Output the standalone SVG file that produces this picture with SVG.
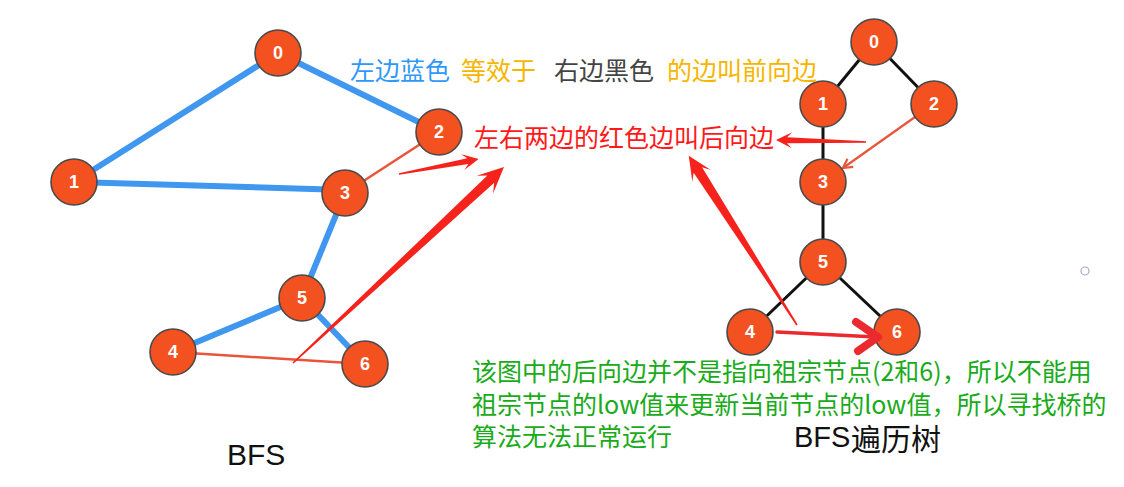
<svg xmlns="http://www.w3.org/2000/svg" width="1124" height="487" viewBox="0 0 1124 487">
<style>
.node circle{fill:#f3511f;stroke:#4a4a4a;stroke-width:1.6}
.node text{fill:#fff;font-family:"Liberation Sans",Arial,sans-serif;font-weight:bold;font-size:18px;text-anchor:middle}
.blue{stroke:#3f97ef;stroke-width:6;stroke-linecap:round;fill:none}
.back{stroke:#e8553a;stroke-width:2.5;fill:none}
.tree{stroke:#111;stroke-width:3;fill:none}
.big{fill:#f5231c}
.cjk{font-family:"Noto Sans CJK SC","Noto Sans",sans-serif;font-size:25px}
.lat{font-family:"Liberation Sans",Arial,sans-serif;fill:#111}
</style>
<defs>
<marker id="ah" markerWidth="12" markerHeight="12" refX="10" refY="6" orient="auto" markerUnits="userSpaceOnUse">
<path d="M1,1 L10,6 L1,11" fill="none" stroke="#e8553a" stroke-width="2.2"/>
</marker>
</defs>
<rect width="1124" height="487" fill="#fff"/>
<g id="connectors">
<line class="blue" x1="278" y1="53" x2="74" y2="182"/>
<line class="blue" x1="278" y1="53" x2="439" y2="132"/>
<line class="blue" x1="74" y1="182" x2="345" y2="190"/>
<line class="blue" x1="345" y1="193" x2="302" y2="298"/>
<line class="blue" x1="302" y1="298" x2="173" y2="352"/>
<line class="blue" x1="302" y1="298" x2="365" y2="364"/>
<line class="back" x1="439" y1="132" x2="345" y2="193"/>
<line class="back" x1="173" y1="352" x2="365" y2="364"/>
<line class="tree" x1="874" y1="42" x2="823" y2="104"/>
<line class="tree" x1="874" y1="42" x2="934" y2="104"/>
<line class="tree" x1="823" y1="104" x2="823" y2="182"/>
<line class="tree" x1="823" y1="182" x2="823" y2="262"/>
<line class="tree" x1="823" y1="262" x2="750" y2="332"/>
<line class="tree" x1="823" y1="262" x2="897" y2="332"/>
<line x1="915" y1="117" x2="843" y2="168" stroke="#e8553a" stroke-width="2.2" marker-end="url(#ah)"/>
</g>
<g id="L0" class="node"><circle cx="278" cy="53" r="23"/><text x="278" y="59">0</text></g>
<g id="L1" class="node"><circle cx="74" cy="182" r="23"/><text x="74" y="188">1</text></g>
<g id="L2" class="node"><circle cx="439" cy="132" r="23"/><text x="439" y="138">2</text></g>
<g id="L3" class="node"><circle cx="345" cy="193" r="23"/><text x="345" y="199">3</text></g>
<g id="L4" class="node"><circle cx="173" cy="352" r="23"/><text x="173" y="358">4</text></g>
<g id="L5" class="node"><circle cx="302" cy="298" r="23"/><text x="302" y="304">5</text></g>
<g id="L6" class="node"><circle cx="365" cy="364" r="23"/><text x="365" y="370">6</text></g>
<g id="T0" class="node"><circle cx="874" cy="42" r="23"/><text x="874" y="48">0</text></g>
<g id="T1" class="node"><circle cx="823" cy="104" r="23"/><text x="823" y="110">1</text></g>
<g id="T2" class="node"><circle cx="934" cy="104" r="23"/><text x="934" y="110">2</text></g>
<g id="T3" class="node"><circle cx="823" cy="182" r="23"/><text x="823" y="188">3</text></g>
<g id="T5" class="node"><circle cx="823" cy="262" r="23"/><text x="823" y="268">5</text></g>
<g id="T4" class="node"><circle cx="750" cy="332" r="23"/><text x="750" y="338">4</text></g>
<g id="T6" class="node"><circle cx="897" cy="332" r="23"/><text x="897" y="338">6</text></g>
<g id="arrows">
<path class="big" transform="translate(399,174) rotate(-10.6)" d="M0,-0.8 L70,-2.8 L65,-8 L81,0 L65,8 L70,2.8 L0,0.8Z"/>
<path class="big" transform="translate(293,363) rotate(-42.9)" d="M0,-0.8 L270,-5 L262,-12 L288,0 L262,12 L270,5 L0,0.8Z"/>
<path class="big" transform="translate(866,142) rotate(-178.7)" d="M0,-0.8 L79,-3 L74,-8 L90,0 L74,8 L79,3 L0,0.8Z"/>
<path class="big" transform="translate(797,325) rotate(-122.6)" d="M0,-0.8 L184,-5 L177,-11 L201,0 L177,11 L184,5 L0,0.8Z"/>
<line x1="777" y1="332" x2="876" y2="337" stroke="#ea2a2f" stroke-width="3.5" stroke-linecap="round"/>
<path d="M856,322 L878,337 L858,351" fill="none" stroke="#ea2a2f" stroke-width="8" stroke-linecap="round" stroke-linejoin="round"/>
</g>
<g id="labels">
<text class="cjk" x="350" y="80" fill="#2f98fb">左边蓝色</text>
<text class="cjk" x="461" y="80" fill="#f6b600">等效于</text>
<text class="cjk" x="554" y="80" fill="#444">右边黑色</text>
<text class="cjk" x="667" y="80" fill="#f6b600">的边叫前向边</text>
<text class="cjk" x="474" y="147" fill="#ff1a1a">左右两边的红色边叫后向边</text>
<text class="cjk" fill="#1aab1a"><tspan x="472" y="381">该图中的后向边并不是指向祖宗节点(2和6)，所以不能用</tspan><tspan x="472" y="414">祖宗节点的low值来更新当前节点的low值，所以寻找桥的</tspan><tspan x="472" y="446">算法无法正常运行</tspan></text>
<text class="lat" x="227" y="465" font-size="30">BFS</text>
<text class="lat" x="794" y="447" font-size="29">BFS</text>
<text x="851" y="450" font-family="Noto Sans CJK SC,sans-serif" font-size="30" fill="#111">遍历树</text>
</g>
<circle cx="1085" cy="271" r="4" fill="none" stroke="#a8a8d0" stroke-width="1.2"/>
</svg>
